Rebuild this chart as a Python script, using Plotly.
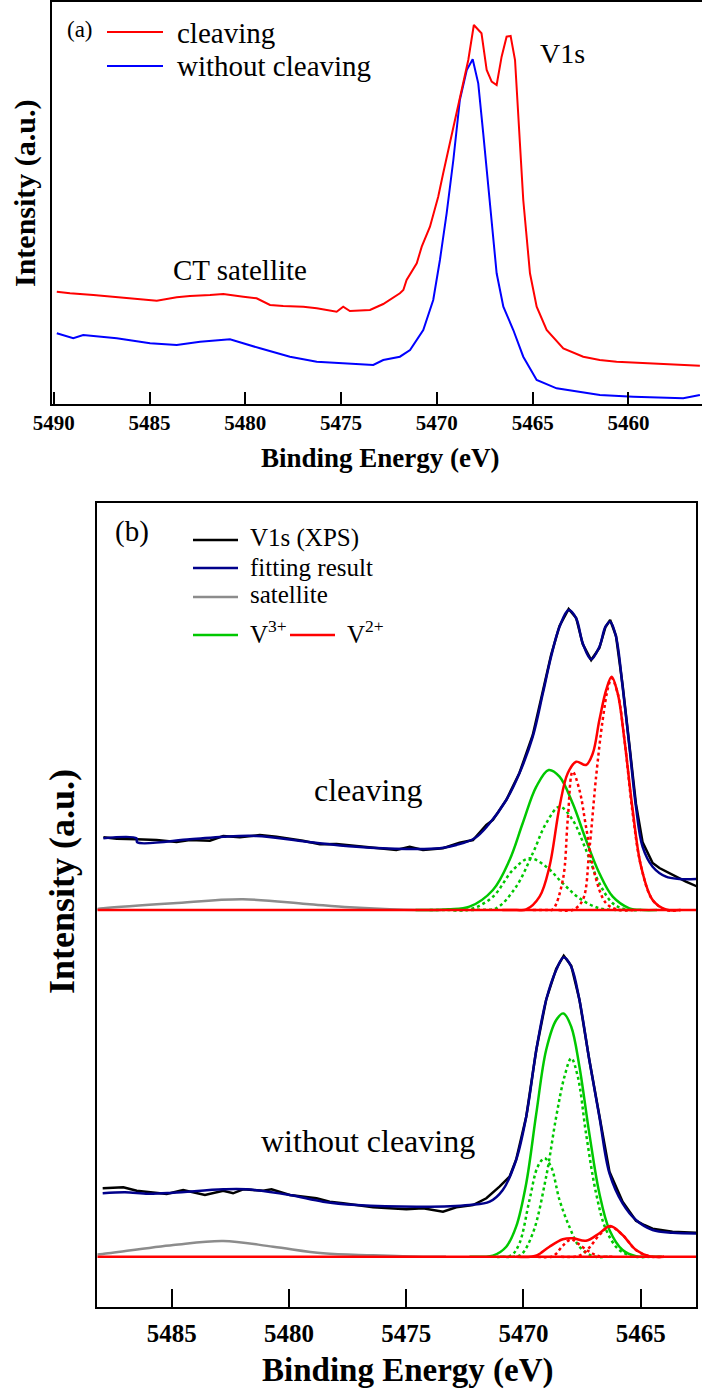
import plotly.graph_objects as go

W, H = 702, 1395
SERIF = "Liberation Serif, Times New Roman, serif"

# ---------------- panel (a) data: binding energy (eV) / intensity (a.u.) ----------------
a_cleave_E = [5489.84, 5489.15, 5487.93, 5486.71, 5485.67, 5484.62, 5483.58, 5482.89, 5481.84,
              5481.15, 5480.10, 5479.41, 5478.71, 5478.02, 5476.97, 5476.27, 5475.23, 5474.89,
              5474.54, 5473.49, 5472.80, 5471.93, 5471.75, 5471.58, 5471.05, 5470.79, 5470.36,
              5469.93, 5469.67, 5469.32, 5468.80, 5468.36, 5468.07, 5467.67, 5467.40, 5467.14,
              5466.88, 5466.62, 5466.36, 5466.15, 5465.92, 5465.75, 5465.49, 5465.14, 5464.79,
              5464.27, 5463.40, 5462.36, 5461.50, 5460.62, 5459.80, 5458.88, 5457.50, 5456.27]
a_cleave_I = [112.3, 110.7, 109.0, 106.7, 104.7, 103.3, 106.7, 108.0, 109.0,
              110.0, 107.3, 105.7, 99.0, 98.0, 97.3, 95.7, 92.3, 97.3,
              93.0, 94.0, 100.0, 110.7, 114.0, 124.0, 140.7, 157.3, 177.3,
              207.3, 230.7, 260.7, 307.3, 344.0, 379.0, 370.7, 334.0, 322.3,
              319.0, 347.3, 367.3, 368.0, 344.0, 287.3, 204.0, 130.7, 97.3,
              74.0, 55.7, 47.3, 44.0, 42.3, 41.5, 40.7, 40.0, 38.3]

a_nocleave_E = [5489.84, 5488.98, 5488.46, 5486.71, 5484.97, 5483.58, 5482.36, 5480.80, 5479.23,
                5477.67, 5476.27, 5474.54, 5473.32, 5472.80, 5471.93, 5471.40, 5470.71, 5470.19,
                5469.84, 5469.49, 5469.14, 5468.80, 5468.44, 5468.13, 5467.84, 5467.58, 5467.23,
                5466.88, 5466.53, 5466.01, 5465.49, 5464.79, 5463.75, 5461.49, 5459.75, 5457.14,
                5456.27]
a_nocleave_I = [70.7, 65.7, 69.0, 65.7, 60.7, 59.0, 62.3, 64.7, 55.7,
                47.3, 42.3, 40.7, 39.0, 44.0, 47.3, 54.0, 74.0, 104.0,
                144.0, 190.7, 244.0, 304.0, 334.0, 344.7, 320.7, 270.7, 197.3,
                130.7, 97.3, 74.0, 47.3, 24.0, 15.7, 9.0, 7.3, 5.7,
                9.0]

a_ticks = [5490, 5485, 5480, 5475, 5470, 5465, 5460]

# ---------------- panel (b) data ----------------
b_offset_cleave = 396.7
b_offset_nocleave = 50.0

b_base_E = [5488.17, 5462.64]
b_base_I = [0.0, 0.0]

# cleaving
b_cl_data_E = [5487.91, 5487.34, 5486.49, 5485.64, 5484.79, 5484.22, 5483.37, 5482.80, 5482.09,
               5481.24, 5480.53, 5479.40, 5478.68, 5477.97, 5477.12, 5476.27, 5475.42, 5474.85,
               5474.28, 5473.43, 5472.72, 5472.15, 5471.58, 5471.30, 5470.73, 5470.17, 5469.60,
               5469.17, 5468.82, 5468.46, 5468.07, 5467.75, 5467.47, 5467.11, 5466.76, 5466.50,
               5466.30, 5466.05, 5465.77, 5465.48, 5465.20, 5464.92, 5464.49, 5464.20, 5463.65,
               5463.07, 5462.57]
b_cl_data_I = [72.7, 71.3, 70.7, 70.0, 68.0, 70.0, 69.3, 74.0, 72.7,
               75.0, 73.3, 69.3, 65.7, 66.0, 64.0, 61.7, 60.0, 63.3,
               60.0, 61.7, 67.3, 70.0, 85.0, 90.0, 110.0, 137.0, 175.0,
               219.0, 255.0, 284.0, 301.0, 292.0, 266.0, 250.0, 262.0, 283.0,
               290.0, 274.0, 225.0, 165.0, 106.0, 68.0, 47.0, 42.0, 35.0,
               28.3, 23.3]

b_cl_fit_E = [5487.91, 5486.50, 5486.47, 5484.22, 5482.80, 5481.38, 5479.25, 5477.12, 5474.99,
              5473.57, 5472.86, 5472.08, 5471.50, 5470.73, 5470.17, 5469.60, 5469.17, 5468.82,
              5468.46, 5468.07, 5467.75, 5467.47, 5467.11, 5466.76, 5466.50, 5466.30, 5466.05,
              5465.77, 5465.48, 5465.20, 5464.92, 5464.49, 5463.92, 5463.35, 5462.60]
b_cl_fit_I = [71.7, 71.7, 67.7, 70.7, 73.3, 74.0, 68.3, 63.3, 61.0,
              61.7, 65.0, 71.7, 85.0, 110.0, 136.7, 173.3, 216.7, 253.3,
              283.3, 300.0, 291.7, 266.7, 250.7, 263.3, 283.3, 288.3, 273.3,
              223.3, 163.3, 103.3, 63.3, 43.3, 33.3, 31.0, 31.0]

b_cl_sat_E = [5488.17, 5487.91, 5484.93, 5481.96, 5479.25, 5477.41, 5475.70, 5474.50, 5473.50]
b_cl_sat_I = [1.0, 1.7, 6.7, 10.7, 6.0, 2.7, 0.7, 0.0, 0.0]

b_cl_v3_E = [5474.60, 5474.00, 5473.20, 5472.30, 5471.30, 5470.59, 5470.03, 5469.45, 5468.92,
             5468.46, 5467.90, 5467.33, 5466.76, 5466.19, 5465.48, 5464.90, 5464.30]
b_cl_v3_I = [0.0, 0.0, 0.8, 3.3, 20.0, 50.0, 86.7, 123.3, 140.0,
             133.3, 106.7, 70.0, 36.7, 13.3, 1.7, 0.0, 0.0]

b_cl_v3a_E = [5473.00, 5472.40, 5471.80, 5471.16, 5470.31, 5469.60, 5469.03, 5468.46, 5467.90,
              5467.33, 5466.76, 5466.19, 5465.62, 5465.00]
b_cl_v3a_I = [0.0, 0.0, 0.3, 1.7, 23.3, 56.7, 86.7, 103.3, 90.0,
              60.0, 26.7, 6.7, 0.5, 0.0]

b_cl_v3b_E = [5474.00, 5473.30, 5472.30, 5471.30, 5470.45, 5469.74, 5469.03, 5468.32, 5467.61,
              5466.76, 5466.00, 5465.40]
b_cl_v3b_I = [0.0, 0.0, 0.5, 13.3, 40.0, 51.7, 43.3, 26.7, 11.7,
              1.7, 0.0, 0.0]

b_cl_v2_E = [5470.90, 5470.30, 5469.88, 5469.31, 5468.89, 5468.46, 5468.11, 5467.75, 5467.33,
             5467.04, 5466.76, 5466.47, 5466.24, 5465.98, 5465.69, 5465.34, 5464.98, 5464.49,
             5463.92, 5463.30]
b_cl_v2_I = [0.0, 0.0, 0.5, 13.3, 43.3, 103.3, 136.7, 148.3, 145.0,
             156.7, 190.0, 220.0, 233.3, 216.7, 170.0, 100.0, 43.3, 10.0,
             0.5, 0.0]

b_cl_v2a_E = [5469.60, 5469.00, 5468.75, 5468.32, 5468.11, 5467.90, 5467.61, 5467.33, 5466.97,
              5466.47, 5465.91, 5465.30]
b_cl_v2a_I = [0.0, 0.0, 0.5, 30.0, 90.0, 138.3, 120.0, 83.3, 36.7,
              6.7, 0.0, 0.0]

b_cl_v2b_E = [5468.50, 5467.90, 5467.47, 5467.19, 5466.90, 5466.62, 5466.38, 5466.24, 5465.98,
              5465.69, 5465.34, 5464.98, 5464.49, 5463.92, 5463.30]
b_cl_v2b_I = [0.0, 0.0, 10.0, 60.0, 133.3, 190.0, 223.3, 231.7, 216.7,
              170.0, 96.7, 43.3, 10.0, 0.0, 0.0]

# without cleaving
b_nc_data_E = [5487.94, 5487.06, 5486.49, 5485.64, 5485.21, 5484.51, 5483.94, 5483.58, 5482.80,
               5482.38, 5481.95, 5481.10, 5480.74, 5479.96, 5478.82, 5478.26, 5477.69, 5476.41,
               5474.99, 5474.28, 5473.43, 5472.86, 5472.15, 5471.58, 5471.02, 5470.59, 5470.31,
               5469.88, 5469.45, 5469.03, 5468.60, 5468.28, 5467.96, 5467.61, 5467.19, 5466.76,
               5466.33, 5465.77, 5465.20, 5464.85, 5464.49, 5463.64, 5462.57]
b_nc_data_I = [68.4, 69.4, 66.0, 64.0, 62.7, 66.7, 63.4, 61.7, 66.0,
               63.4, 67.4, 66.0, 67.4, 61.7, 58.4, 55.0, 53.4, 49.4,
               47.4, 48.4, 45.0, 49.4, 51.7, 58.4, 70.0, 80.0, 97.0,
               140.0, 207.0, 257.0, 288.0, 301.0, 291.0, 257.0, 197.0, 141.0,
               85.0, 55.0, 36.0, 31.7, 28.0, 25.0, 24.0]

b_nc_fit_E = [5487.94, 5486.99, 5486.00, 5484.93, 5482.80, 5481.81, 5479.96, 5478.54, 5477.12,
              5474.28, 5472.30, 5471.44, 5470.88, 5470.31, 5469.88, 5469.45, 5469.03, 5468.60,
              5468.28, 5467.96, 5467.61, 5467.19, 5466.76, 5466.33, 5465.77, 5465.20, 5464.49,
              5463.64, 5462.57]
b_nc_fit_I = [63.4, 64.5, 63.0, 64.0, 67.4, 67.4, 61.7, 55.0, 51.7,
              50.0, 51.7, 55.0, 66.7, 96.7, 140.0, 206.7, 256.7, 286.7,
              299.4, 290.0, 256.7, 196.7, 140.0, 83.3, 53.3, 36.7, 26.7,
              24.0, 23.3]

b_nc_sat_E = [5488.17, 5487.94, 5484.93, 5482.80, 5480.67, 5478.54, 5476.41, 5474.28, 5473.30]
b_nc_sat_I = [2.3, 2.7, 11.7, 15.7, 10.0, 3.4, 1.4, 0.0, 0.0]

b_nc_v3_E = [5472.30, 5471.70, 5471.30, 5470.73, 5470.31, 5469.88, 5469.45, 5469.03, 5468.60,
             5468.29, 5467.96, 5467.61, 5467.19, 5466.76, 5466.33, 5465.77, 5465.20, 5464.70,
             5464.10]
b_nc_v3_I = [0.0, 0.0, 1.0, 10.0, 30.0, 73.3, 143.3, 206.7, 236.7,
             243.3, 230.0, 190.0, 123.3, 63.3, 26.7, 6.7, 0.5, 0.0,
             0.0]

b_nc_v3a_E = [5471.00, 5470.40, 5470.10, 5469.60, 5469.03, 5468.60, 5468.25, 5467.96, 5467.68,
              5467.33, 5466.90, 5466.47, 5465.91, 5465.20, 5464.60]
b_nc_v3a_I = [0.0, 0.0, 2.0, 23.3, 80.0, 140.0, 180.0, 198.4, 180.0,
              123.3, 63.3, 26.7, 6.7, 0.0, 0.0]

b_nc_v3b_E = [5471.40, 5470.80, 5470.50, 5470.17, 5469.74, 5469.39, 5469.10, 5468.82, 5468.46,
              5468.04, 5467.61, 5467.04, 5466.40]
b_nc_v3b_I = [0.0, 0.0, 1.5, 13.3, 56.7, 90.0, 98.4, 90.0, 56.7,
              30.0, 10.0, 0.5, 0.0]

b_nc_v2_E = [5470.30, 5469.70, 5469.40, 5468.89, 5468.32, 5467.90, 5467.33, 5466.76, 5466.30,
             5465.77, 5465.20, 5464.60, 5464.00]
b_nc_v2_I = [0.0, 0.0, 1.5, 10.0, 17.4, 18.4, 16.0, 23.4, 30.7,
             21.7, 6.7, 0.3, 0.0]

b_nc_v2a_E = [5469.40, 5468.80, 5468.60, 5468.32, 5467.96, 5467.68, 5467.19, 5466.76, 5466.20]
b_nc_v2a_I = [0.0, 0.0, 3.0, 11.0, 17.4, 13.3, 5.0, 0.5, 0.0]

b_nc_v2b_E = [5468.40, 5467.80, 5467.50, 5467.19, 5466.76, 5466.30, 5465.77, 5465.20, 5464.60,
              5464.00]
b_nc_v2b_I = [0.0, 0.0, 2.5, 9.0, 21.7, 30.0, 21.7, 6.7, 0.3,
              0.0]

b_ticks = [5485, 5480, 5475, 5470, 5465]

# ---------------- colours ----------------
RED = "#ff0000"
BLUE = "#0000ff"
BLACK = "#000000"
NAVY = "#00008b"
GRAY = "#8c8c8c"
GREEN = "#00c800"


def off(vals, o):
    return [v + o for v in vals]


fig = go.Figure()

# panel (a)
fig.add_trace(go.Scatter(x=a_nocleave_E, y=a_nocleave_I, mode="lines",
                         line=dict(color=BLUE, width=2), xaxis="x", yaxis="y"))
fig.add_trace(go.Scatter(x=a_cleave_E, y=a_cleave_I, mode="lines",
                         line=dict(color=RED, width=2), xaxis="x", yaxis="y"))

# panel (b)
for o, sat, v3a, v3b, v3, v2a, v2b, v2, dat, fit in [
    (b_offset_cleave, (b_cl_sat_E, b_cl_sat_I), (b_cl_v3a_E, b_cl_v3a_I), (b_cl_v3b_E, b_cl_v3b_I),
     (b_cl_v3_E, b_cl_v3_I), (b_cl_v2a_E, b_cl_v2a_I), (b_cl_v2b_E, b_cl_v2b_I), (b_cl_v2_E, b_cl_v2_I),
     (b_cl_data_E, b_cl_data_I), (b_cl_fit_E, b_cl_fit_I)),
    (b_offset_nocleave, (b_nc_sat_E, b_nc_sat_I), (b_nc_v3a_E, b_nc_v3a_I), (b_nc_v3b_E, b_nc_v3b_I),
     (b_nc_v3_E, b_nc_v3_I), (b_nc_v2a_E, b_nc_v2a_I), (b_nc_v2b_E, b_nc_v2b_I), (b_nc_v2_E, b_nc_v2_I),
     (b_nc_data_E, b_nc_data_I), (b_nc_fit_E, b_nc_fit_I)),
]:
    fig.add_trace(go.Scatter(x=sat[0], y=off(sat[1], o), mode="lines", line_shape="spline",
                             line=dict(color=GRAY, width=2.5), xaxis="x2", yaxis="y2"))
    for comp in (v3a, v3b):
        fig.add_trace(go.Scatter(x=comp[0], y=off(comp[1], o), mode="lines", line_shape="spline",
                                 line=dict(color=GREEN, width=2.5, dash="dot"), xaxis="x2", yaxis="y2"))
    fig.add_trace(go.Scatter(x=v3[0], y=off(v3[1], o), mode="lines", line_shape="spline",
                             line=dict(color=GREEN, width=2.5), xaxis="x2", yaxis="y2"))
    for comp in (v2a, v2b):
        fig.add_trace(go.Scatter(x=comp[0], y=off(comp[1], o), mode="lines", line_shape="spline",
                                 line=dict(color=RED, width=2.5, dash="dot"), xaxis="x2", yaxis="y2"))
    fig.add_trace(go.Scatter(x=b_base_E, y=off(b_base_I, o), mode="lines",
                             line=dict(color=RED, width=2.5), xaxis="x2", yaxis="y2"))
    fig.add_trace(go.Scatter(x=v2[0], y=off(v2[1], o), mode="lines", line_shape="spline",
                             line=dict(color=RED, width=2.5), xaxis="x2", yaxis="y2"))
    fig.add_trace(go.Scatter(x=dat[0], y=off(dat[1], o), mode="lines",
                             line=dict(color=BLACK, width=2.5), xaxis="x2", yaxis="y2"))
    fig.add_trace(go.Scatter(x=fit[0], y=off(fit[1], o), mode="lines", line_shape="spline",
                             line=dict(color=NAVY, width=2.5), xaxis="x2", yaxis="y2"))


def px(x):
    return x / W


def py(y):
    return 1 - y / H


common_axis = dict(showgrid=False, zeroline=False, showline=True, linecolor="black",
                   mirror=True, automargin=False)

fig.update_layout(
    width=W, height=H, margin=dict(l=0, r=0, t=0, b=0),
    paper_bgcolor="white", plot_bgcolor="white", showlegend=False,
    xaxis=dict(common_axis, domain=[px(52), 1.0], range=[5490.09, 5456.16], anchor="y",
               tickvals=a_ticks, ticks="inside", ticklen=12, tickwidth=1.5, tickcolor="black",
               linewidth=2, ticklabelstandoff=-1,
               tickfont=dict(family=SERIF, size=21, color="black", weight="bold")),
    yaxis=dict(common_axis, domain=[py(404), py(1.7)], range=[0, 402.3], anchor="x",
               showticklabels=False, ticks="", linewidth=2),
    xaxis2=dict(common_axis, domain=[px(97.3), px(696)], range=[5488.17, 5462.64], anchor="y2",
                tickvals=b_ticks, ticks="inside", ticklen=18, tickwidth=2, tickcolor="black",
                linewidth=2.2, ticklabelstandoff=3,
                tickfont=dict(family=SERIF, size=25, color="black", weight="bold")),
    yaxis2=dict(common_axis, domain=[py(1306.7), py(503.3)], range=[0, 803.4], anchor="x2",
                showticklabels=False, ticks="", linewidth=2.2),
)

ann = []


def text(t, x, y, size, bold=False, xanchor="center", angle=0):
    ann.append(dict(text=t, x=px(x), y=py(y), xref="paper", yref="paper", showarrow=False,
                    xanchor=xanchor, yanchor="middle", textangle=angle,
                    font=dict(family=SERIF, size=size, color="black",
                              weight="bold" if bold else "normal")))


# panel (a) texts
text("(a)", 80, 30, 23)
text("cleaving", 175, 33, 29, xanchor="left")
text("without cleaving", 175, 66, 29, xanchor="left")
text("V1s", 562, 53, 28)
text("CT satellite", 239.5, 270, 29)
text("Binding Energy (eV)", 381, 458, 27, bold=True)
text("Intensity (a.u.)", 25, 193, 30, bold=True, angle=-90)

# panel (b) texts
text("(b)", 132, 531, 29)
text("V1s (XPS)", 248, 538, 25, xanchor="left")
text("fitting result", 248, 567, 25, xanchor="left")
text("satellite", 248, 595, 25, xanchor="left")
text("V<sup>3+</sup>", 248, 632, 25, xanchor="left")
text("V<sup>2+</sup>", 345, 632, 25, xanchor="left")
text("cleaving", 368, 790, 32)
text("without cleaving", 368.5, 1141, 32)
text("Binding Energy (eV)", 408, 1370, 33, bold=True)
text("Intensity (a.u.)", 62, 882, 36, bold=True, angle=-90)

fig.update_layout(annotations=ann)

shapes = []


def legline(x0, x1, y, color, width):
    shapes.append(dict(type="line", xref="paper", yref="paper", x0=px(x0), x1=px(x1),
                       y0=py(y), y1=py(y), line=dict(color=color, width=width)))


legline(107, 163, 32, RED, 2)
legline(107, 163, 66, BLUE, 2)
legline(193, 238, 540, BLACK, 2.5)
legline(193, 238, 568, NAVY, 2.5)
legline(193, 238, 597, GRAY, 2.5)
legline(193, 238, 635, GREEN, 2.5)
legline(290, 335, 635, RED, 2.5)
fig.update_layout(shapes=shapes)

fig.write_html("out.html", config={"displayModeBar": False},
               post_script="document.body.style.margin='0';document.body.style.overflow='hidden';")
